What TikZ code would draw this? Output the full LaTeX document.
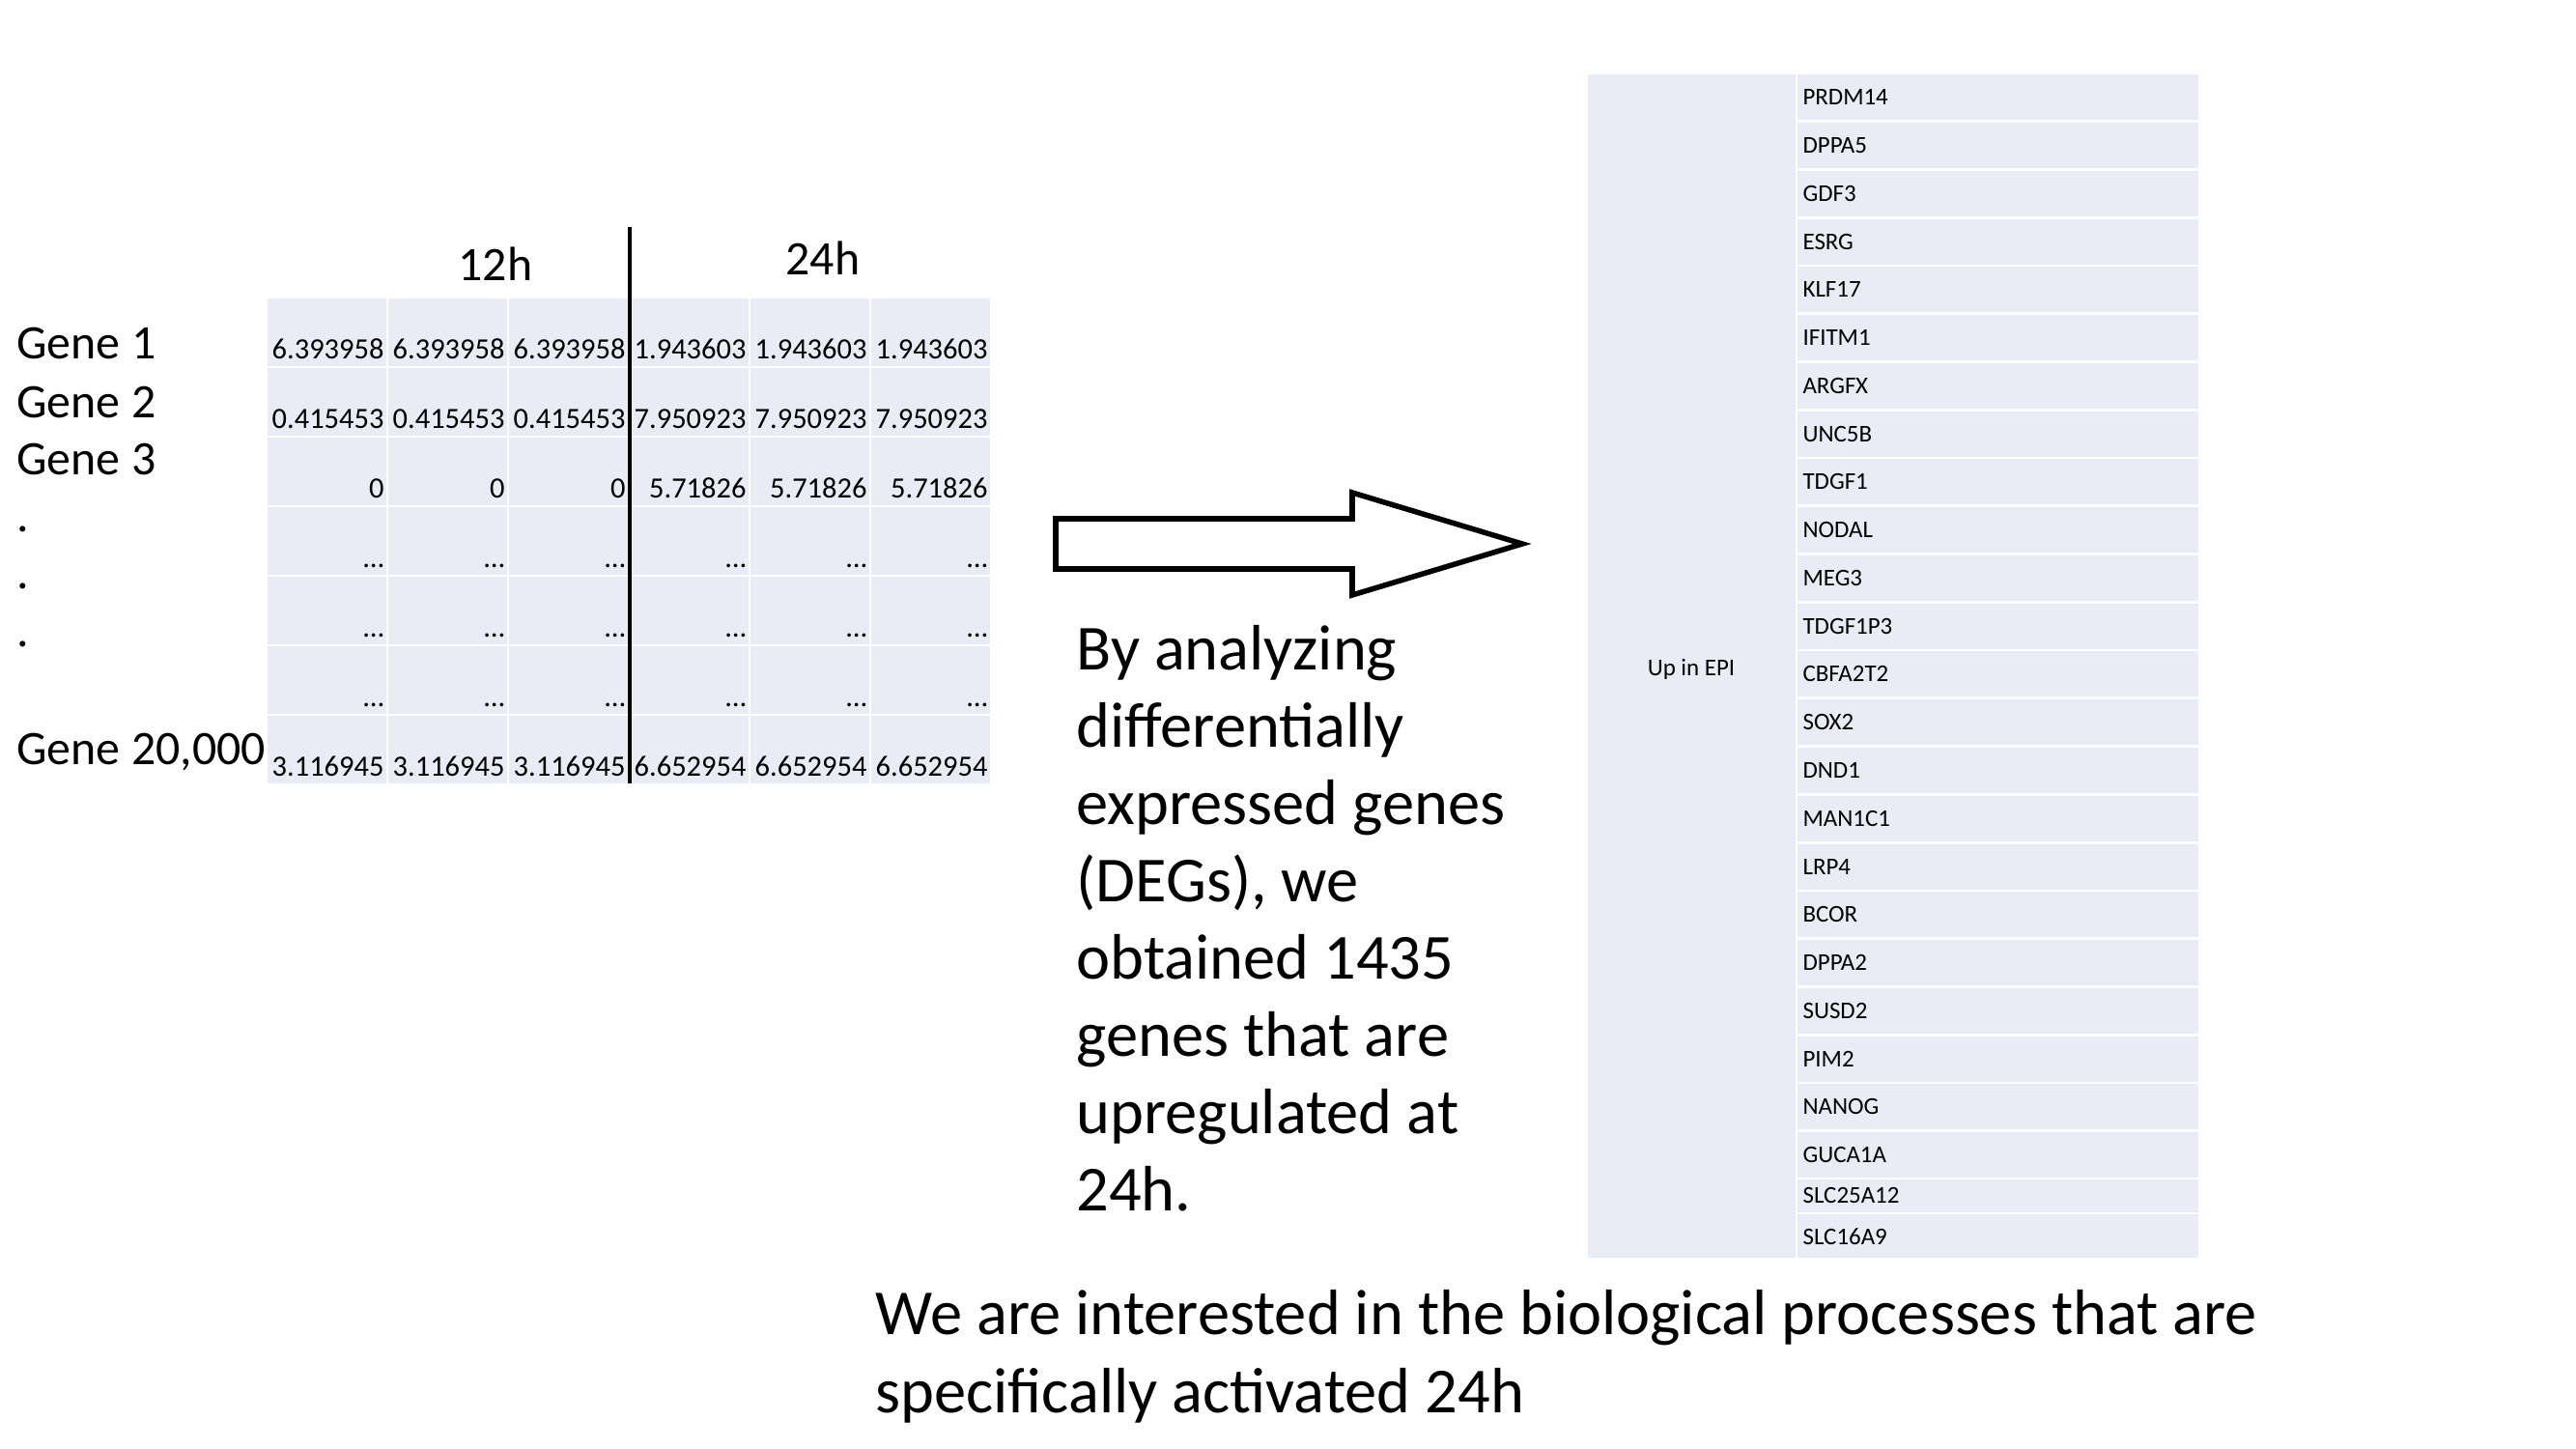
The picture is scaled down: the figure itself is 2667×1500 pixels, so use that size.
\documentclass[tikz,border=0pt]{standalone}
\usepackage{fontspec}
\setmainfont{Carlito}
\usepackage{xcolor}
\usepackage{tikz}
\definecolor{cellbg}{RGB}{233,235,245}
\tikzset{cell/.style={fill=cellbg, draw=white, line width=1pt},
val/.style={anchor=base east, inner sep=0pt, font=\fontsize{11pt}{13pt}\selectfont},
genelabel/.style={anchor=base west, inner sep=0pt, font=\fontsize{18pt}{22pt}\selectfont},
bigtext/.style={anchor=base west, inner sep=0pt, font=\fontsize{24pt}{29pt}\selectfont},
genename/.style={anchor=base west, inner sep=0pt, font=\fontsize{9pt}{11pt}\selectfont}}

\begin{document}
\begin{tikzpicture}[x=0.0127cm,y=-0.0127cm]
 \useasboundingbox (0,0) rectangle (2667,1500);

 %Drawing expression table
 \foreach \r in {1,...,7}
  \foreach \c in {1,...,6}
   \draw[cell] ({276+(\c-1)*125},{308+(\r-1)*72}) rectangle ++(125,72);

 \foreach \r/\a/\b in {1/6.393958/1.943603, 2/0.415453/7.950923, 3/0/5.71826,
   4/…/…, 5/…/…, 6/…/…, 7/3.116945/6.652954}{
  \foreach \c in {1,2,3}
   \node[val] (v\r\c) at ({276+\c*125-3},{308+\r*72-8}) {\a};
  \foreach \c in {4,5,6}
   \node[val] (v\r\c) at ({276+\c*125-3},{308+\r*72-8}) {\b};
 }

 \node[genelabel, anchor=base] (t12) at (513,291) {12h};
 \node[genelabel, anchor=base] (t24) at (852,285) {24h};

 \coordinate (septop) at (652,235);
 \coordinate (sepbot) at (652,811);
 \draw[line width=1.25pt] (septop) -- (sepbot);

 %Gene names on the left
 \node[genelabel] (gene1) at (17,372) {Gene 1};
 \node[genelabel] (gene2) at (17,433) {Gene 2};
 \node[genelabel] (gene3) at (17,492) {Gene 3};
 \node[genelabel] (dot1) at (17,551) {.};
 \node[genelabel] (dot2) at (17,610) {.};
 \node[genelabel] (dot3) at (17,670) {.};
 \node[genelabel] (genelast) at (17,792) {Gene 20,000};

 %Block arrow
 \draw[line width=2pt, fill=white] (1093,537) -- (1400,537) -- (1400,510) -- (1576,563)
   -- (1400,616) -- (1400,589) -- (1093,589) -- cycle;

 %Text under the arrow
 \foreach \t [count=\i] in {By analyzing, differentially, expressed genes, {(DEGs), we},
   obtained 1435, genes that are, upregulated at, 24h.}
  \node[bigtext] (deg\i) at (1114,{694+(\i-1)*80}) {\t};

 %Up regulated genes
 \draw[cell] (1643,76) rectangle (1860,1303);
 \node[genename, anchor=center] (upepi) at (1751,693) {Up in EPI};
 \foreach \g [count=\i] in {PRDM14, DPPA5, GDF3, ESRG, KLF17, IFITM1, ARGFX, UNC5B,
   TDGF1, NODAL, MEG3, TDGF1P3, CBFA2T2, SOX2, DND1, MAN1C1, LRP4, BCOR, DPPA2,
   SUSD2, PIM2, NANOG, GUCA1A}{
  \draw[cell] (1860,{76+(\i-1)*49.76}) rectangle (2277,{76+\i*49.76});
  \node[genename] (up\i) at (1866,{76+(\i-0.5)*49.76+8}) {\g};
 }
 \draw[cell] (1860,1220) rectangle (2277,1256);
 \node[genename] (up24) at (1866,1246) {SLC25A12};
 \draw[cell] (1860,1256) rectangle (2277,1303);
 \node[genename] (up25) at (1866,1289) {SLC16A9};

 %Bottom text
 \node[bigtext] (note1) at (906,1382) {We are interested in the biological processes that are};
 \node[bigtext] (note2) at (906,1462) {specifically activated 24h};

\end{tikzpicture}
\end{document}
